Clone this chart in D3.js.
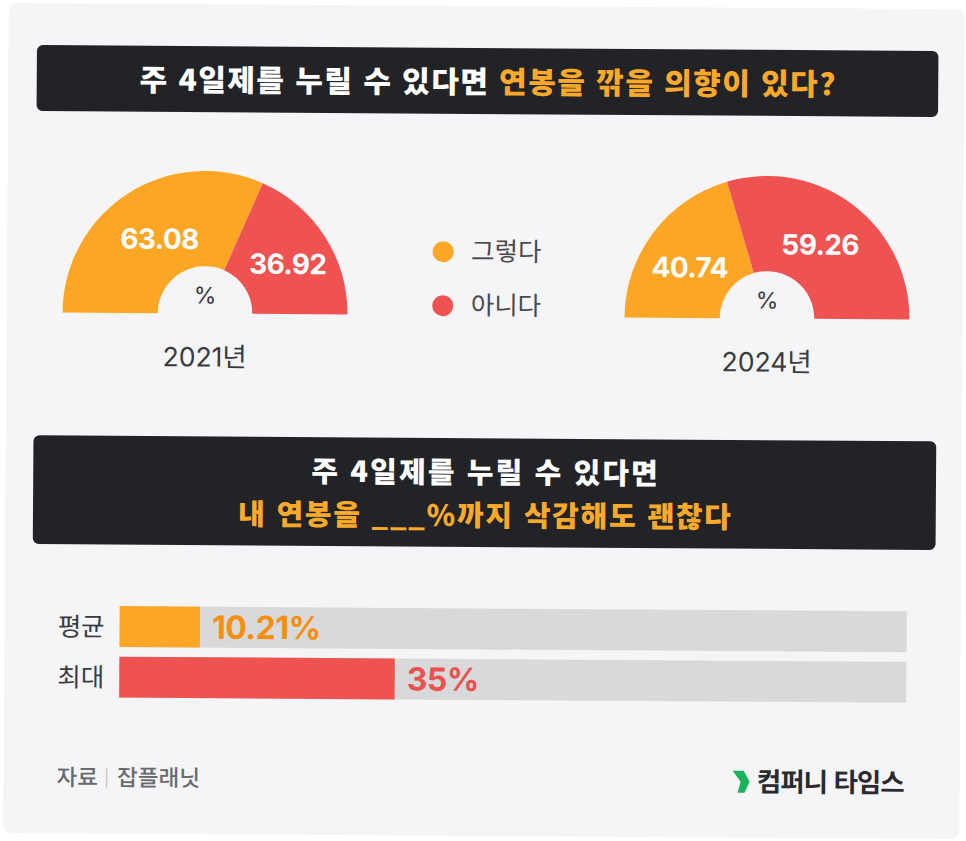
<!DOCTYPE html>
<html lang="ko"><head><meta charset="utf-8">
<style>html,body{margin:0;padding:0;background:#fff}svg{display:block}
text{font-family:"Noto Sans CJK KR","Noto Sans",sans-serif}
.num{font-family:Inter,"Noto Sans",sans-serif}
.mix{font-family:Inter,"Noto Sans CJK KR",sans-serif}</style>
<script src="https://cdn.jsdelivr.net/npm/d3@7"></script></head>
<body><svg id="c" width="966" height="841"></svg>
<script>
const years = ["2021년", "2024년"];
const answers = ["그렇다", "아니다"];
const share2021 = [63.08, 36.92];
const share2024 = [40.74, 59.26];
const barLabels = ["평균", "최대"];
const barValues = [10.21, 35];
const barTexts = ["10.21%", "35%"];

const ORANGE = "#FCA625", RED = "#EE5351", DARK = "#222326", GREY = "#D8D9DB", BG = "#F5F5F7";
const svg = d3.select("#c");
const root = svg.append("g").attr("transform", "rotate(0.38 483 420)");

root.append("rect").attr("x", 6).attr("y", 6).attr("width", 956).attr("height", 830).attr("rx", 8).attr("fill", BG);

function box(x0, y0, x1, y1) {
  root.append("rect").attr("x", x0).attr("y", y0).attr("width", x1 - x0).attr("height", y1 - y0).attr("rx", 6).attr("fill", DARK);
}
function headline(cx, y, parts, size, spacing) {
  const t = root.append("text").attr("x", cx).attr("y", y).attr("text-anchor", "middle")
    .attr("font-size", size).attr("font-weight", 900).attr("letter-spacing", spacing).attr("dominant-baseline", "central");
  parts.forEach(p => t.append("tspan").attr("fill", p[1]).text(p[0]));
}
box(34.5, 48, 936, 114);
headline(486, 80, [["주 4일제를 누릴 수 있다면 ", "#fff"], ["연봉을 깎을 의향이 있다?", "#FBA92B"]], 30, 1.45);
box(33.6, 438.3, 936.4, 547);
headline(486, 470, [["주 4일제를 누릴 수 있다면", "#fff"]], 29, 2.1);
headline(486, 513, [["내 연봉을 ___%까지 삭감해도 괜찮다", "#FBA92B"]], 29, 1.75);

// gauges
const colour = d3.scaleOrdinal().domain(answers).range([ORANGE, RED]);
const pie = d3.pie().sort(null).startAngle(-Math.PI / 2).endAngle(Math.PI / 2);
const arc = d3.arc().innerRadius(47.3).outerRadius(142.5);
function gauge(values, year, cx, cy, nudges, yearY) {
  const g = root.append("g").attr("transform", `translate(${cx},${cy})`);
  const arcs = pie(values);
  g.selectAll("path").data(arcs).join("path").attr("d", arc).attr("fill", (d, i) => colour(answers[i]));
  g.selectAll("text.num").data(arcs).join("text").attr("class", "num")
    .attr("x", (d, i) => arc.centroid(d)[0] + nudges[i][0])
    .attr("y", (d, i) => arc.centroid(d)[1] + nudges[i][1])
    .attr("text-anchor", "middle").attr("dominant-baseline", "central")
    .attr("font-size", 28).attr("font-weight", 700).attr("fill", "#fff").attr("letter-spacing", -0.6)
    .text(d => d.value.toFixed(2));
  g.append("text").attr("x", 0).attr("y", -18).attr("text-anchor", "middle").attr("dominant-baseline", "central")
    .attr("font-size", 23).attr("fill", "#3a3b3e").attr("class", "num").text("%");
  g.append("text").attr("class", "mix").attr("x", 0).attr("y", yearY).attr("text-anchor", "middle").attr("dominant-baseline", "central")
    .attr("font-size", 26.5).attr("fill", "#3a3b3e").text(year);
}
gauge(share2021, years[0], 204.3, 315.3, [[6, 5], [3, 2]], 43);
gauge(share2024, years[1], 766.3, 316.6, [[-1.5, 6], [-4, 2]], 43);

// legend
const leg = root.selectAll("g.leg").data(answers).join("g").attr("class", "leg")
  .attr("transform", (d, i) => `translate(442,${252 + i * 54})`);
leg.append("circle").attr("r", 10.5).attr("fill", d => colour(d));
leg.append("text").attr("x", 28).attr("y", -3).attr("dominant-baseline", "central").attr("font-size", 25.5)
  .attr("fill", "#4a4b4e").text(d => d);

// bars
const x = d3.scaleLinear().domain([0, 100]).range([121, 908]);
const y = d3.scaleBand().domain(barLabels).range([608.5, 700]).paddingInner(0.19);
const barColours = [ORANGE, RED];
const textColours = ["#F5900F", "#E8524F"];
root.selectAll("rect.track").data(barLabels).join("rect").attr("class", "track")
  .attr("x", x(0)).attr("y", d => y(d)).attr("width", x(100) - x(0)).attr("height", y.bandwidth()).attr("fill", GREY);
root.selectAll("rect.val").data(barValues).join("rect").attr("class", "val")
  .attr("x", x(0)).attr("y", (d, i) => y(barLabels[i])).attr("width", d => x(d) - x(0)).attr("height", y.bandwidth())
  .attr("fill", (d, i) => barColours[i]);
root.selectAll("text.bl").data(barLabels).join("text").attr("class", "bl")
  .attr("x", 106).attr("y", d => y(d) + y.bandwidth() / 2 - 2).attr("text-anchor", "end").attr("dominant-baseline", "central")
  .attr("font-size", 25.5).attr("fill", "#3a3b3e").text(d => d);
root.selectAll("text.bv").data(barValues).join("text").attr("class", "num bv")
  .attr("x", d => x(d) + 12).attr("y", (d, i) => y(barLabels[i]) + y.bandwidth() / 2)
  .attr("dominant-baseline", "central").attr("font-size", 32).attr("font-weight", 700)
  .attr("letter-spacing", -0.5).attr("fill", (d, i) => textColours[i]).text((d, i) => barTexts[i]);

// footer
const src = root.append("text").attr("x", 59).attr("y", 778).attr("dominant-baseline", "central").attr("font-size", 22.5).attr("font-weight", 500).attr("fill", "#6a6b6e");
src.append("tspan").text("자료");
src.append("tspan").attr("dx", 6).attr("fill", "#c8c9cb").attr("font-size", 18).text("|");
src.append("tspan").attr("dx", 8).text("잡플래닛");

root.append("path").attr("transform", "translate(735,769)").attr("d", "M0,0H11L17,11L12,22H5L8,11Z").attr("fill", "#19B45A");
root.append("text").attr("x", 906).attr("y", 778).attr("text-anchor", "end").attr("dominant-baseline", "central")
  .attr("font-size", 26.5).attr("font-weight", 700).attr("letter-spacing", -1).attr("fill", "#2a2b2e").text("컴퍼니 타임스");
</script></body></html>
